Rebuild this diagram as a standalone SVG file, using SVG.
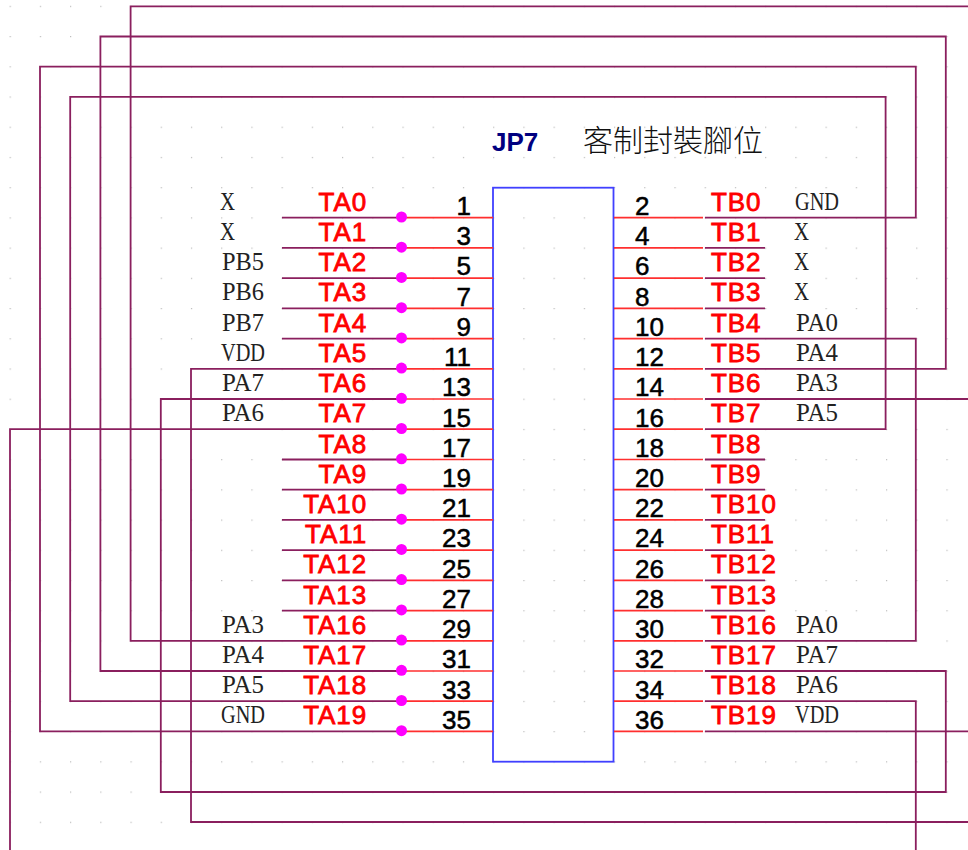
<svg xmlns="http://www.w3.org/2000/svg" width="968" height="850" viewBox="0 0 968 850">
<style>
.w{fill:none;stroke:#8a1f5e;stroke-width:1.8}
.p{fill:none;stroke:#ff2f2f;stroke-width:1.7}
.j{fill:#ff00ff}
.l{font:26px "Liberation Sans",Arial,sans-serif;fill:#ff0000;stroke:#ff0000;stroke-width:.8;letter-spacing:.9px}
.n{font:26px "Liberation Sans",Arial,sans-serif;fill:#000;stroke:#000;stroke-width:.5}
.e{text-anchor:end}
.m{font:25px "Liberation Serif","Times New Roman",serif;fill:#222}
</style>
<defs>
<pattern id="grid" x="9.6" y="5.8" width="30.22" height="30.22" patternUnits="userSpaceOnUse"><rect width="1.2" height="1.2" fill="#bbb"/></pattern>
</defs>
<rect width="968" height="850" fill="#fff"/>
<rect width="968" height="850" fill="url(#grid)"/>
<rect x="215" y="262" width="55" height="172" fill="#fff"/>
<rect x="790" y="240" width="12" height="80" fill="#fff"/>
<rect x="790" y="320" width="80" height="115" fill="#fff"/>
<g id="connectors">
<path class="w" d="M401 640.8H130.6V6.3H968M705 399H968"/>
<path class="w" d="M401 671H100.4V36.5H945.8V368.8H705"/>
<path class="w" d="M401 731.4H40V66.7H915.8V217.7H705"/>
<path class="w" d="M401 701.2H70.2V96.9H885.6V429.2H705"/>
<path class="w" d="M705 338.6H915.8V640.8H705"/>
<path class="w" d="M401 368.8H191V822H968"/>
<path class="w" d="M401 399H160.8V792H945.8V671H705"/>
<path class="w" d="M401 429.2H10V850"/>
<path class="w" d="M705 701.2H915.8V850"/>
<path class="w" d="M705 731.4H968"/>
<path class="w" d="M282 217.7H401M282 247.9H401M282 278.1H401M282 308.4H401M282 338.6H401M282 459.5H401M282 489.7H401M282 519.9H401M282 550.1H401M282 580.3H401M282 610.6H401"/>
<path class="w" d="M705 247.9H765M705 278.1H765M705 308.4H765M705 459.5H765M705 489.7H765M705 519.9H765M705 550.1H765M705 580.3H765M705 610.6H765"/>
</g>
<g id="JP7">
<rect x="493" y="187.7" width="120.5" height="574" fill="none" stroke="#4040ff" stroke-width="1.8"/>
<text x="492" y="151" font-family="Liberation Sans, sans-serif" font-size="26" font-weight="bold" fill="#000080">JP7</text>
<text x="583" y="151" font-family="Noto Sans CJK TC, sans-serif" font-size="30" font-weight="300" fill="#111">客制封裝腳位</text>
</g>
<g id="pins-left">
<g id="pin-1"><path class="p" d="M401 217.7H493"/><circle class="j" cx="401.5" cy="217" r="5.5"/><text class="n e" x="471" y="215">1</text><text class="l e" x="367" y="210.7">TA0</text><text class="m" x="220" y="209.7" textLength="15" lengthAdjust="spacingAndGlyphs">X</text></g>
<g id="pin-3"><path class="p" d="M401 247.9H493"/><circle class="j" cx="401.5" cy="247.2" r="5.5"/><text class="n e" x="471" y="245.2">3</text><text class="l e" x="367" y="240.9">TA1</text><text class="m" x="220" y="239.9" textLength="15" lengthAdjust="spacingAndGlyphs">X</text></g>
<g id="pin-5"><path class="p" d="M401 278.1H493"/><circle class="j" cx="401.5" cy="277.4" r="5.5"/><text class="n e" x="471" y="275.4">5</text><text class="l e" x="367" y="271.1">TA2</text><text class="m" x="222" y="270.1" textLength="42" lengthAdjust="spacingAndGlyphs">PB5</text></g>
<g id="pin-7"><path class="p" d="M401 308.4H493"/><circle class="j" cx="401.5" cy="307.7" r="5.5"/><text class="n e" x="471" y="305.7">7</text><text class="l e" x="367" y="301.4">TA3</text><text class="m" x="222" y="300.4" textLength="42" lengthAdjust="spacingAndGlyphs">PB6</text></g>
<g id="pin-9"><path class="p" d="M401 338.6H493"/><circle class="j" cx="401.5" cy="337.9" r="5.5"/><text class="n e" x="471" y="335.9">9</text><text class="l e" x="367" y="331.6">TA4</text><text class="m" x="222" y="330.6" textLength="42" lengthAdjust="spacingAndGlyphs">PB7</text></g>
<g id="pin-11"><path class="p" d="M401 368.8H493"/><circle class="j" cx="401.5" cy="368.1" r="5.5"/><text class="n e" x="471" y="366.1">11</text><text class="l e" x="367" y="361.8">TA5</text><text class="m" x="221" y="360.8" textLength="44" lengthAdjust="spacingAndGlyphs">VDD</text></g>
<g id="pin-13"><path class="p" d="M401 399H493"/><circle class="j" cx="401.5" cy="398.3" r="5.5"/><text class="n e" x="471" y="396.3">13</text><text class="l e" x="367" y="392">TA6</text><text class="m" x="222" y="391" textLength="42" lengthAdjust="spacingAndGlyphs">PA7</text></g>
<g id="pin-15"><path class="p" d="M401 429.2H493"/><circle class="j" cx="401.5" cy="428.5" r="5.5"/><text class="n e" x="471" y="426.5">15</text><text class="l e" x="367" y="422.2">TA7</text><text class="m" x="222" y="421.2" textLength="42" lengthAdjust="spacingAndGlyphs">PA6</text></g>
<g id="pin-17"><path class="p" d="M401 459.5H493"/><circle class="j" cx="401.5" cy="458.8" r="5.5"/><text class="n e" x="471" y="456.8">17</text><text class="l e" x="367" y="452.5">TA8</text></g>
<g id="pin-19"><path class="p" d="M401 489.7H493"/><circle class="j" cx="401.5" cy="489" r="5.5"/><text class="n e" x="471" y="487">19</text><text class="l e" x="367" y="482.7">TA9</text></g>
<g id="pin-21"><path class="p" d="M401 519.9H493"/><circle class="j" cx="401.5" cy="519.2" r="5.5"/><text class="n e" x="471" y="517.2">21</text><text class="l e" x="367" y="512.9">TA10</text></g>
<g id="pin-23"><path class="p" d="M401 550.1H493"/><circle class="j" cx="401.5" cy="549.4" r="5.5"/><text class="n e" x="471" y="547.4">23</text><text class="l e" x="367" y="543.1">TA11</text></g>
<g id="pin-25"><path class="p" d="M401 580.3H493"/><circle class="j" cx="401.5" cy="579.6" r="5.5"/><text class="n e" x="471" y="577.6">25</text><text class="l e" x="367" y="573.3">TA12</text></g>
<g id="pin-27"><path class="p" d="M401 610.6H493"/><circle class="j" cx="401.5" cy="609.9" r="5.5"/><text class="n e" x="471" y="607.9">27</text><text class="l e" x="367" y="603.6">TA13</text></g>
<g id="pin-29"><path class="p" d="M401 640.8H493"/><circle class="j" cx="401.5" cy="640.1" r="5.5"/><text class="n e" x="471" y="638.1">29</text><text class="l e" x="367" y="633.8">TA16</text><text class="m" x="222" y="632.8" textLength="42" lengthAdjust="spacingAndGlyphs">PA3</text></g>
<g id="pin-31"><path class="p" d="M401 671H493"/><circle class="j" cx="401.5" cy="670.3" r="5.5"/><text class="n e" x="471" y="668.3">31</text><text class="l e" x="367" y="664">TA17</text><text class="m" x="222" y="663" textLength="42" lengthAdjust="spacingAndGlyphs">PA4</text></g>
<g id="pin-33"><path class="p" d="M401 701.2H493"/><circle class="j" cx="401.5" cy="700.5" r="5.5"/><text class="n e" x="471" y="698.5">33</text><text class="l e" x="367" y="694.2">TA18</text><text class="m" x="222" y="693.2" textLength="42" lengthAdjust="spacingAndGlyphs">PA5</text></g>
<g id="pin-35"><path class="p" d="M401 731.4H493"/><circle class="j" cx="401.5" cy="730.7" r="5.5"/><text class="n e" x="471" y="728.7">35</text><text class="l e" x="367" y="724.4">TA19</text><text class="m" x="221" y="723.4" textLength="44" lengthAdjust="spacingAndGlyphs">GND</text></g>
</g>
<g id="pins-right">
<g id="pin-2"><path class="p" d="M614 217.7H703"/><text class="n" x="635" y="215">2</text><text class="l" x="711" y="210.7">TB0</text><text class="m" x="795" y="209.7" textLength="44" lengthAdjust="spacingAndGlyphs">GND</text></g>
<g id="pin-4"><path class="p" d="M614 247.9H703"/><text class="n" x="635" y="245.2">4</text><text class="l" x="711" y="240.9">TB1</text><text class="m" x="794" y="239.9" textLength="15" lengthAdjust="spacingAndGlyphs">X</text></g>
<g id="pin-6"><path class="p" d="M614 278.1H703"/><text class="n" x="635" y="275.4">6</text><text class="l" x="711" y="271.1">TB2</text><text class="m" x="794" y="270.1" textLength="15" lengthAdjust="spacingAndGlyphs">X</text></g>
<g id="pin-8"><path class="p" d="M614 308.4H703"/><text class="n" x="635" y="305.7">8</text><text class="l" x="711" y="301.4">TB3</text><text class="m" x="794" y="300.4" textLength="15" lengthAdjust="spacingAndGlyphs">X</text></g>
<g id="pin-10"><path class="p" d="M614 338.6H703"/><text class="n" x="635" y="335.9">10</text><text class="l" x="711" y="331.6">TB4</text><text class="m" x="796" y="330.6" textLength="42" lengthAdjust="spacingAndGlyphs">PA0</text></g>
<g id="pin-12"><path class="p" d="M614 368.8H703"/><text class="n" x="635" y="366.1">12</text><text class="l" x="711" y="361.8">TB5</text><text class="m" x="796" y="360.8" textLength="42" lengthAdjust="spacingAndGlyphs">PA4</text></g>
<g id="pin-14"><path class="p" d="M614 399H703"/><text class="n" x="635" y="396.3">14</text><text class="l" x="711" y="392">TB6</text><text class="m" x="796" y="391" textLength="42" lengthAdjust="spacingAndGlyphs">PA3</text></g>
<g id="pin-16"><path class="p" d="M614 429.2H703"/><text class="n" x="635" y="426.5">16</text><text class="l" x="711" y="422.2">TB7</text><text class="m" x="796" y="421.2" textLength="42" lengthAdjust="spacingAndGlyphs">PA5</text></g>
<g id="pin-18"><path class="p" d="M614 459.5H703"/><text class="n" x="635" y="456.8">18</text><text class="l" x="711" y="452.5">TB8</text></g>
<g id="pin-20"><path class="p" d="M614 489.7H703"/><text class="n" x="635" y="487">20</text><text class="l" x="711" y="482.7">TB9</text></g>
<g id="pin-22"><path class="p" d="M614 519.9H703"/><text class="n" x="635" y="517.2">22</text><text class="l" x="711" y="512.9">TB10</text></g>
<g id="pin-24"><path class="p" d="M614 550.1H703"/><text class="n" x="635" y="547.4">24</text><text class="l" x="711" y="543.1">TB11</text></g>
<g id="pin-26"><path class="p" d="M614 580.3H703"/><text class="n" x="635" y="577.6">26</text><text class="l" x="711" y="573.3">TB12</text></g>
<g id="pin-28"><path class="p" d="M614 610.6H703"/><text class="n" x="635" y="607.9">28</text><text class="l" x="711" y="603.6">TB13</text></g>
<g id="pin-30"><path class="p" d="M614 640.8H703"/><text class="n" x="635" y="638.1">30</text><text class="l" x="711" y="633.8">TB16</text><text class="m" x="796" y="632.8" textLength="42" lengthAdjust="spacingAndGlyphs">PA0</text></g>
<g id="pin-32"><path class="p" d="M614 671H703"/><text class="n" x="635" y="668.3">32</text><text class="l" x="711" y="664">TB17</text><text class="m" x="796" y="663" textLength="42" lengthAdjust="spacingAndGlyphs">PA7</text></g>
<g id="pin-34"><path class="p" d="M614 701.2H703"/><text class="n" x="635" y="698.5">34</text><text class="l" x="711" y="694.2">TB18</text><text class="m" x="796" y="693.2" textLength="42" lengthAdjust="spacingAndGlyphs">PA6</text></g>
<g id="pin-36"><path class="p" d="M614 731.4H703"/><text class="n" x="635" y="728.7">36</text><text class="l" x="711" y="724.4">TB19</text><text class="m" x="795" y="723.4" textLength="44" lengthAdjust="spacingAndGlyphs">VDD</text></g>
</g>
</svg>
